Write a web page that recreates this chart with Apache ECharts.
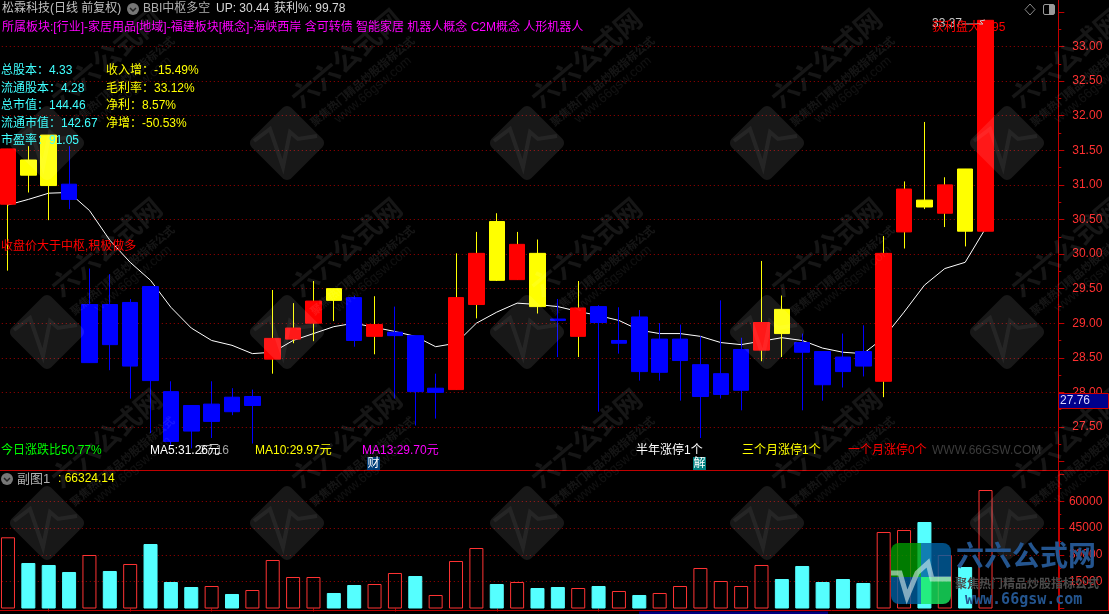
<!DOCTYPE html>
<html><head><meta charset="utf-8">
<style>html,body{margin:0;padding:0;background:#000;overflow:hidden}#c{width:1109px;height:614px}</style>
<script src="https://cdn.jsdelivr.net/npm/echarts@6/dist/echarts.min.js"></script>
</head><body><div id="c"></div>
<script>
const opens  = [30.72,31.36,31.72,31.01,28.43,29.27,28.38,29.53,28.01,27.81,27.58,27.93,27.81,28.48,28.77,29.00,29.50,29.37,28.81,28.82,28.82,28.00,28.04,29.27,30.47,29.63,30.01,29.06,28.81,29.24,28.71,29.09,28.29,28.46,27.94,27.97,28.03,28.61,29.20,28.72,28.59,28.51,28.59,28.16,30.32,30.78,30.59,31.23,30.33];
const closes = [31.52,31.14,30.99,30.79,29.27,28.69,29.30,28.17,27.29,27.44,27.83,27.72,27.94,28.78,28.93,29.32,29.33,28.75,28.98,28.87,28.01,28.06,29.37,30.01,29.62,30.14,29.24,29.04,29.22,29.01,28.75,28.30,28.77,28.77,28.40,28.27,28.62,29.01,28.85,28.58,28.11,28.30,28.38,30.01,30.94,30.68,31.00,30.33,33.38];
const lows   = [29.76,30.89,30.49,30.65,28.43,28.32,27.91,27.41,27.22,27.19,27.34,27.67,27.26,28.27,28.71,28.74,29.03,28.66,28.55,27.91,27.52,27.62,28.04,29.07,29.61,29.63,29.14,28.51,28.51,27.72,28.56,28.17,28.17,27.88,27.34,27.91,27.74,28.45,28.51,27.74,27.88,28.07,28.23,27.93,30.08,30.65,30.39,30.11,30.33];
const highs  = [31.52,31.56,31.72,31.56,29.79,29.71,29.35,29.53,28.16,27.81,28.16,28.06,28.04,29.48,29.29,29.61,29.50,29.40,29.39,29.24,28.82,28.27,30.01,30.32,30.59,30.32,30.21,29.35,29.61,29.26,29.23,29.19,29.00,28.98,28.81,29.33,28.79,29.90,29.40,28.85,28.59,28.85,28.97,30.26,31.05,31.91,31.11,31.23,33.38];
const signal = ['r','y','y','b','b','b','b','b','b','b','b','b','b','r','r','r','y','b','r','b','b','b','r','r','y','r','y','b','r','b','b','b','b','b','b','b','b','r','y','b','b','b','b','r','r','y','r','y','r'];
const bbi    = [30.71,30.79,30.88,30.89,30.63,30.20,29.88,29.62,29.23,28.93,28.75,28.68,28.56,28.58,28.75,28.85,28.95,29.00,28.94,28.88,28.81,28.66,28.71,29.00,29.16,29.29,29.27,29.24,29.17,29.11,29.04,28.90,28.85,28.85,28.81,28.72,28.69,28.74,28.79,28.75,28.64,28.58,28.56,28.79,29.16,29.55,29.79,29.88,30.37];
const volume = [39850,25470,24350,20430,29940,20990,24910,36100,14830,12030,12590,8120,10350,27150,17630,17630,8680,13150,13710,19870,18190,7560,26590,33860,13710,14830,11470,12030,11470,12590,9800,7560,8680,12590,22670,15390,12590,24350,16510,23790,14830,16510,14270,42820,43940,48410,29940,23230,66324];
const sessions = Array.from({length:52},(_,i)=>'D'+(i+1));
const monthTicks = [2,6,10,15,19,24,29];
const watermarkCols = [47,287,527,767,1007];
const watermarkRows = [143,332,523];

const F = '"Liberation Sans","Noto Sans CJK SC"';
const RED='#ff0000', YEL='#ffff00', BLU='#0000ff', AX='#c00000', GRID='#a00000';
const bodyCol = {r:RED,y:YEL,b:BLU};
const wickCol = {r:YEL,y:YEL,b:BLU};

const wicks = lows.map((l,i)=>[i,l,highs[i]]);
const bodies = opens.map((o,i)=>({value:[o,closes[i],Math.min(o,closes[i]),Math.max(o,closes[i])],
  itemStyle:{color:bodyCol[signal[i]],color0:bodyCol[signal[i]],borderColor:bodyCol[signal[i]],borderColor0:bodyCol[signal[i]]}}));
const vols = volume.map((v,i)=>{
  const up = closes[i]>=opens[i];
  return {value:v,itemStyle: up ? {color:'rgba(0,0,0,0)',borderColor:'#ff3333',borderWidth:1}
                                : {color:'#55ffff',borderColor:'#55ffff',borderWidth:1}};
});

function T(text,x,y,fill,size,extra){
  return {type:'text',z:60,silent:true,style:Object.assign({text,x,y,fill,font:(size||12)+'px '+F,textVerticalAlign:'middle'},extra||{})};
}
const g=[];
// watermark
watermarkCols.forEach(cx=>watermarkRows.forEach(cy=>{
  g.push({type:'rect',z:50,silent:true,x:cx,y:cy,rotation:Math.PI/4,shape:{x:-28,y:-28,width:56,height:56,r:6},style:{fill:'rgba(255,255,255,0.095)'}});
  g.push({type:'polyline',z:50,silent:true,x:cx,y:cy,shape:{points:[[-33,-2],[-17,-14],[-4,24],[3,-11],[11,-4],[30,-7]]},style:{stroke:'rgba(255,255,255,0.06)',lineWidth:4,fill:null}});
  const rot=40*Math.PI/180;
  [['六六公式网',61,-83,'bold 27px',0.085],['聚焦热门精品炒股指标公式',76,-61,'bold 11px',0.085],['www.66gsw.com',86,-53,'13px',0.065]].forEach(t=>{
    g.push({type:'text',z:50,silent:true,x:cx+t[1],y:cy+t[2],rotation:rot,style:{text:t[0],x:0,y:0,fill:'rgba(255,255,255,'+t[4]+')',font:t[3]+' '+F,textAlign:'center',textVerticalAlign:'middle'}});
  });
}));
// frame rails
const railStroke={stroke:AX,lineWidth:1};
[[1058.5,0,1058.5,611],[0,470.5,1109,470.5],[0,610.5,1108.5,610.5],[1108.5,470.5,1108.5,611]].forEach(l=>{
  g.push({type:'line',z:40,silent:true,shape:{x1:l[0],y1:l[1],x2:l[2],y2:l[3]},style:railStroke});
});
g.push({type:'line',z:40,silent:true,shape:{x1:1059,y1:470,x2:1059,y2:611},style:{stroke:AX,lineWidth:2}});
// title rows
g.push(T('松霖科技(日线 前复权)',2,9,'#c0c0c0',12));
g.push({type:'circle',z:60,silent:true,shape:{cx:133,cy:9,r:6},style:{fill:'#777'}});
g.push({type:'polyline',z:61,silent:true,shape:{points:[[130,8],[133,11],[136,8]]},style:{stroke:'#222',lineWidth:1.5,fill:null}});
g.push(T('BBI中枢多空',143,9,'#b0b0b0',12));
g.push(T('UP: 30.44',216,9,'#d8d8d8',12));
g.push(T('获利%: 99.78',274,9,'#d8d8d8',12));
g.push(T('所属板块:[行业]-家居用品[地域]-福建板块[概念]-海峡西岸 含可转债 智能家居 机器人概念 C2M概念 人形机器人',2,28,'#ff00ff',12));
// fundamentals
[['总股本：4.33',71],['流通股本：4.28',89],['总市值：144.46',106],['流通市值：142.67',124],['市盈率：91.05',141]].forEach(r=>g.push(T(r[0],1,r[1],'#40ffff',12)));
[['收入增：-15.49%',71],['毛利率：33.12%',89],['净利：8.57%',106],['净增：-50.53%',124]].forEach(r=>g.push(T(r[0],106,r[1],'#ffff00',12)));
g.push(T('收盘价大于中枢,积极做多',1,247,RED,12));
g.push(T('33.37',932,24,'#c8c8c8',12));
g.push({type:'polyline',z:60,silent:true,shape:{points:[[962,24],[983,24],[980,21],[985,20]]},style:{stroke:'#c8c8c8',lineWidth:1,fill:null}});
g.push(T('获利盘大于95',932,28,RED,12));
// bottom row of main panel
g.push(T('今日涨跌比50.77%',1,451,'#00ff00',12));
g.push(T('27.16',199,451,'#a0a0a0',12));
g.push(T('MA5:31.26元',150,451,'#ffffff',12));
g.push(T('MA10:29.97元',255,451,'#ffff00',12));
g.push(T('MA13:29.70元',362,451,'#ff00ff',12));
g.push(T('半年涨停1个',636,451,'#ffffff',12));
g.push(T('三个月涨停1个',742,451,'#ffff00',12));
g.push(T('一个月涨停0个',848,451,RED,12));
g.push(T('WWW.66GSW.COM',932,451,'#3c3c3c',12));
g.push({type:'rect',z:59,silent:true,shape:{x:367,y:457,width:13,height:13},style:{fill:'#003c78'}});
g.push(T('财',367.5,463.5,'#ffffff',12));
g.push({type:'rect',z:59,silent:true,shape:{x:693,y:457,width:13,height:13},style:{fill:'#008080'}});
g.push(T('解',693.5,463.5,'#ffffff',12));
// sub panel header
g.push({type:'circle',z:60,silent:true,shape:{cx:7,cy:479,r:6},style:{fill:'#777'}});
g.push({type:'polyline',z:61,silent:true,shape:{points:[[4,478],[7,481],[10,478]]},style:{stroke:'#222',lineWidth:1.5,fill:null}});
g.push(T('副图1',17,479,'#b0b0b0',13));
g.push(T(': 66324.14',58,479,'#ffff00',12));
// window icons
g.push({type:'polygon',z:60,silent:true,shape:{points:[[1030,4],[1035,9.5],[1030,15],[1025,9.5]]},style:{stroke:'#888',fill:null,lineWidth:1}});
g.push({type:'rect',z:60,silent:true,shape:{x:1043.5,y:4.5,width:11,height:10,r:1.5},style:{stroke:'#999',fill:null,lineWidth:1}});
g.push({type:'rect',z:60,silent:true,shape:{x:1049,y:5,width:5,height:9},style:{fill:'#999'}});
// current price tag
g.push({type:'rect',z:62,silent:true,shape:{x:1058.5,y:393.5,width:50,height:15},style:{fill:'#00008c',stroke:'#d00000',lineWidth:1}});
g.push(Object.assign(T('27.76',1060,401,'#d8d8ff',12),{z:63}));
// bottom strip
g.push({type:'rect',z:60,silent:true,shape:{x:639,y:611.5,width:189,height:3},style:{fill:'#000080'}});
// logo
const lg=[[891,543,30,34,'#009a00',[8,0,0,0]],[891,577,30,27,'#005fa0',[0,0,0,8]],[921,543,30,34,'#005fa0',[0,8,0,0]],[921,577,30,27,'#18e860',[0,0,8,0]]];
lg.forEach(r=>g.push({type:'rect',z:70,silent:true,shape:{x:r[0],y:r[1],width:r[2],height:r[3],r:r[5]},style:{fill:r[4],opacity:0.8}}));
g.push({type:'polyline',z:71,silent:true,shape:{points:[[891,573],[900,573],[907,597],[917,573],[928,563],[932,579],[951,579]]},style:{stroke:'rgba(215,235,235,0.6)',lineWidth:5,fill:null}});
g.push({type:'text',z:72,silent:true,style:{text:'六六公式网',x:956,y:558,fill:'#24558f',font:'bold 28px '+F,textVerticalAlign:'middle'}});
g.push({type:'text',z:72,silent:true,style:{text:'聚焦热门精品炒股指标公式',x:955,y:585,fill:'#4c4c4c',font:'bold 12px '+F,textVerticalAlign:'middle'}});
g.push({type:'text',z:72,silent:true,style:{text:'www.66gsw.com',x:965,y:600,fill:'#24558f',font:'bold 15px "DejaVu Sans Mono"',textVerticalAlign:'middle'}});

const option={
  animation:false,
  backgroundColor:'#000',
  grid:[
    {left:-2.2,top:12,width:1059,height:449.5,containLabel:false,outerBoundsMode:'none'},
    {left:-2.2,top:474.5,width:1059,height:134,containLabel:false,outerBoundsMode:'none'}
  ],
  xAxis:[
    {type:'category',gridIndex:0,data:sessions,boundaryGap:true,axisLine:{show:false},axisTick:{show:false},axisLabel:{show:false},splitLine:{show:false}},
    {type:'category',gridIndex:1,data:sessions,boundaryGap:true,offset:2,
      axisLine:{show:false},
      axisTick:{show:true,alignWithLabel:true,length:3,lineStyle:{color:AX},interval:(i)=>monthTicks.includes(i)},
      axisLabel:{show:false},splitLine:{show:false}}
  ],
  yAxis:[
    {type:'value',gridIndex:0,position:'right',offset:1.5,min:27,max:33.5,interval:0.5,
      axisLine:{show:false},
      axisTick:{show:true,length:6,lineStyle:{color:AX}},
      minorTick:{show:true,splitNumber:2,length:3,lineStyle:{color:AX}},
      axisLabel:{color:'#ff3030',fontFamily:F,fontSize:12,align:'right',margin:44,showMinLabel:false,showMaxLabel:false,formatter:v=>v.toFixed(2)},
      splitLine:{show:true,showMinLine:false,showMaxLine:false,lineStyle:{color:GRID,type:[1,3],width:1}}},
    {type:'value',gridIndex:1,position:'right',offset:1.5,min:0,max:75000,interval:15000,
      axisLine:{show:false},
      axisTick:{show:true,length:6,lineStyle:{color:AX}},
      minorTick:{show:true,splitNumber:2,length:3,lineStyle:{color:AX}},
      axisLabel:{color:'#ff3030',fontFamily:F,fontSize:12,align:'right',margin:44,showMinLabel:false,showMaxLabel:false,formatter:v=>String(v)},
      splitLine:{show:true,showMinLine:false,showMaxLine:false,lineStyle:{color:GRID,type:[1,3],width:1}}}
  ],
  series:[
    {name:'BBI',type:'line',xAxisIndex:0,yAxisIndex:0,data:bbi,z:2,symbol:'none',smooth:false,lineStyle:{color:'#ffffff',width:1},silent:true},
    {name:'Wick',type:'custom',xAxisIndex:0,yAxisIndex:0,data:wicks,z:3,silent:true,clip:false,
      encode:{x:0,y:[1,2]},
      renderItem:(params,api)=>{
        const a=api.coord([api.value(0),api.value(1)]), b=api.coord([api.value(0),api.value(2)]);
        const x=Math.floor(a[0])+0.5;
        return {type:'line',shape:{x1:x,y1:a[1],x2:x,y2:b[1]},style:{stroke:wickCol[signal[params.dataIndex]],lineWidth:1}};
      }},
    {name:'Body',type:'candlestick',xAxisIndex:0,yAxisIndex:0,data:bodies,z:4,barWidth:16,itemStyle:{borderWidth:1},silent:true},
    {name:'Volume',type:'bar',xAxisIndex:1,yAxisIndex:1,data:vols,z:3,barWidth:14,silent:true}
  ],
  graphic:{elements:g}
};
echarts.init(document.getElementById('c'),null,{renderer:'canvas'}).setOption(option);
</script></body></html>
